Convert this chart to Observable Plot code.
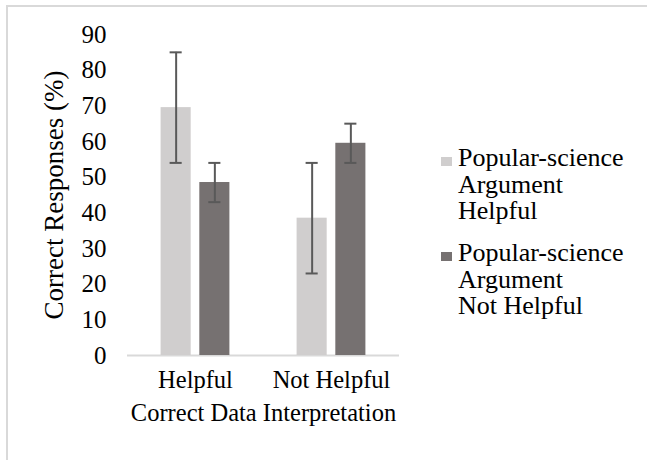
<!DOCTYPE html>
<html><head><meta charset="utf-8">
<script src="https://cdn.jsdelivr.net/npm/d3@7"></script>
<script src="https://cdn.jsdelivr.net/npm/@observablehq/plot@0.6"></script>
<style>
html,body{margin:0;padding:0;overflow:hidden;background:#fff;width:647px;height:460px;}
#frame{position:absolute;left:6px;top:5px;width:700px;height:600px;border:2px solid #d9d9d9;box-sizing:border-box;}
#chart{position:absolute;left:0;top:0;}
#legend{position:absolute;left:441px;top:145px;font-family:"Liberation Serif","Times New Roman",serif;font-size:26px;line-height:26.7px;color:#000;}
.item{position:relative;padding-left:17px;margin-bottom:14.9px;white-space:nowrap;}
.sw{position:absolute;left:0;top:12px;width:11px;height:9px;}
</style></head><body>
<div id="frame"></div><div id="chart"></div><div id="legend"></div>
<script>
const groups = ["Helpful", "Not Helpful"];
const series = ["Popular-science Argument Helpful", "Popular-science Argument Not Helpful"];
const seriesLines = [["Popular-science", "Argument", "Helpful"], ["Popular-science", "Argument", "Not Helpful"]];
const helpfulValues = [69.5, 48.5];
const notHelpfulValues = [38.5, 59.5];
const helpfulErrors = [15.5, 5.5];
const notHelpfulErrors = [15.5, 5.5];
const colors = ["#d0cece", "#767171"];
const yTicks = [0, 10, 20, 30, 40, 50, 60, 70, 80, 90];

const valuesByGroup = [helpfulValues, notHelpfulValues];
const errorsByGroup = [helpfulErrors, notHelpfulErrors];
const data = [];
groups.forEach((g, gi) => series.forEach((s, si) => {
  data.push({group: g, series: s, value: valuesByGroup[gi][si], err: errorsByGroup[gi][si]});
}));

const errStroke = "#595959";
const chart = Plot.plot({
  width: 647, height: 460,
  marginTop: 34, marginBottom: 105, marginLeft: 127, marginRight: 248,
  style: {fontFamily: "'Liberation Serif', 'Times New Roman', serif", color: "#000", background: "transparent", overflow: "visible"},
  fx: {domain: groups, padding: 0, round: false},
  x: {axis: null, domain: series, paddingInner: 0.223, paddingOuter: 0.868, round: false},
  y: {domain: [0, 90]},
  color: {domain: series, range: colors},
  marks: [
    Plot.ruleY([0], {stroke: "#d9d9d9", strokeWidth: 2}),
    Plot.barY(data, {fx: "group", x: "series", y: "value", fill: "series"}),
    Plot.ruleX(data, {fx: "group", x: "series", y1: d => d.value - d.err, y2: d => d.value + d.err, stroke: errStroke, strokeWidth: 2}),
    Plot.tickY(data, {fx: "group", x: "series", y: d => d.value - d.err, stroke: errStroke, strokeWidth: 2, insetLeft: 9, insetRight: 9}),
    Plot.tickY(data, {fx: "group", x: "series", y: d => d.value + d.err, stroke: errStroke, strokeWidth: 2, insetLeft: 9, insetRight: 9}),
    Plot.axisFx({anchor: "bottom", tickSize: 0, tickPadding: 15, fontSize: 24.5, label: "Correct Data Interpretation", labelAnchor: "center", labelOffset: 65, labelArrow: "none"}),
    Plot.axisY({ticks: yTicks, tickSize: 0, tickPadding: 21, fontSize: 25, label: null}),
    Plot.axisY({ticks: [], label: "Correct Responses (%)", labelAnchor: "center", labelOffset: 84, fontSize: 27, labelArrow: "none"})
  ]
});
document.getElementById("chart").appendChild(chart);

const legend = document.getElementById("legend");
series.forEach((s, i) => {
  const item = document.createElement("div");
  item.className = "item";
  const sw = document.createElement("div");
  sw.className = "sw";
  sw.style.background = colors[i];
  item.appendChild(sw);
  seriesLines[i].forEach(line => {
    const l = document.createElement("div");
    l.textContent = line;
    item.appendChild(l);
  });
  legend.appendChild(item);
});
</script>
</body></html>
